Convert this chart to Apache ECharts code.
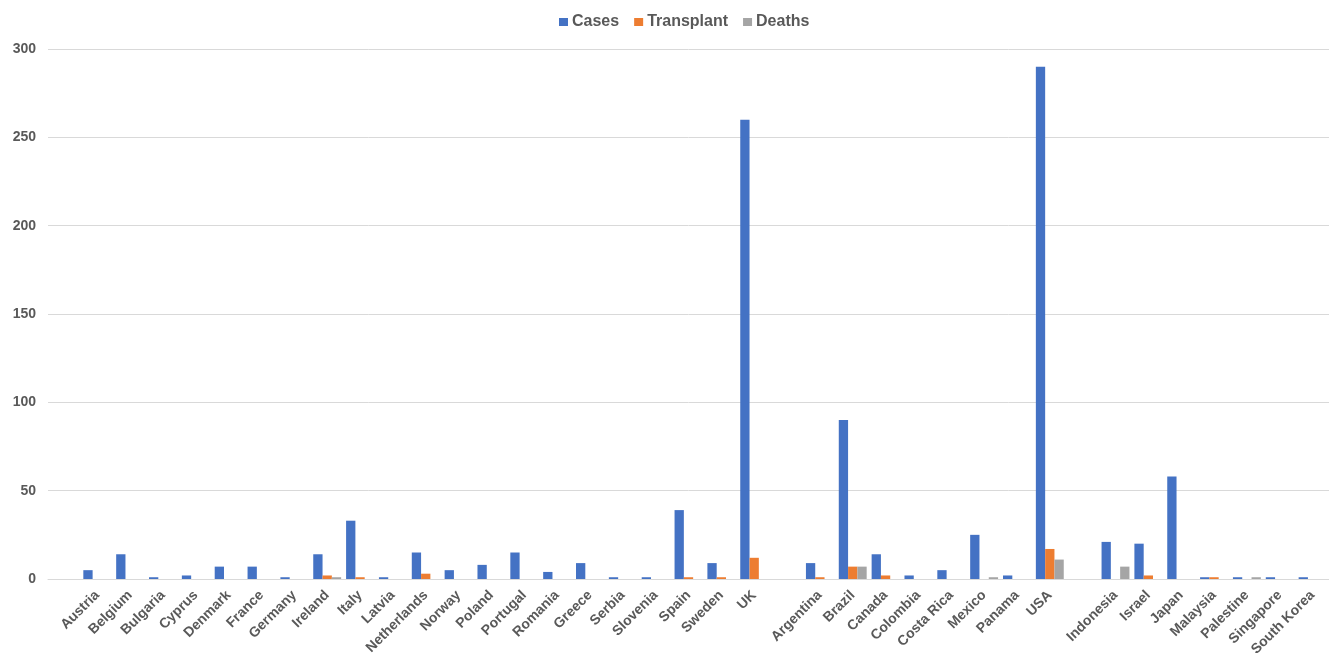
<!DOCTYPE html>
<html>
<head>
<meta charset="utf-8">
<script src="https://cdn.jsdelivr.net/npm/echarts@6/dist/echarts.min.js"></script>
<style>html,body{margin:0;padding:0;background:#fff}#c{width:1329px;height:656px}</style>
</head>
<body>
<div id="c"></div>
<script>
var categories = ['', 'Austria','Belgium','Bulgaria','Cyprus','Denmark','France','Germany','Ireland','Italy','Latvia','Netherlands','Norway','Poland','Portugal','Romania','Greece','Serbia','Slovenia','Spain','Sweden','UK','', 'Argentina','Brazil','Canada','Colombia','Costa Rica','Mexico','Panama','USA','', 'Indonesia','Israel','Japan','Malaysia','Palestine','Singapore','South Korea'];
var cases =      [null, 5,14,1,2,7,7,1,14,33,1,15,5,8,15,4,9,1,1,39,9,260,null, 9,90,14,2,5,25,2,290,null, 21,20,58,1,1,1,1];
var transplant = [null, 0,0,0,0,0,0,0,2,1,0,3,0,0,0,0,0,0,0,1,1,12,null, 1,7,2,0,0,0,0,17,null, 0,2,0,1,0,0,0];
var deaths =     [null, 0,0,0,0,0,0,0,1,0,0,0,0,0,0,0,0,0,0,0,0,0,null, 0,7,0,0,0,1,0,11,null, 7,0,0,0,1,0,0];
var yTicks = [0, 50, 100, 150, 200, 250, 300];

var chart = echarts.init(document.getElementById('c'));
var txt = '#595959';
var font = 'Liberation Sans, Arial, sans-serif';
chart.setOption({
  animation: false,
  textStyle: {fontFamily: font},
  legend: {
    top: 9, left: 554,
    itemWidth: 9, itemHeight: 8, itemGap: 15,
    icon: 'rect',
    textStyle: {color: txt, fontWeight: 'bold', fontSize: 16, fontFamily: font, padding: [0,0,0,-1]},
    data: ['Cases','Transplant','Deaths']
  },
  grid: {left: 48, right: 0, top: 49, bottom: 77, containLabel: false, outerBoundsMode: 'none'},
  xAxis: {
    type: 'category', data: categories,
    axisLine: {show: true, lineStyle: {color: '#D9D9D9', width: 1}},
    axisTick: {show: false},
    axisLabel: {interval: 0, rotate: 45, color: txt, fontWeight: 'bold', fontSize: 14, fontFamily: font, margin: 14}
  },
  yAxis: {
    type: 'value', min: yTicks[0], max: yTicks[yTicks.length-1], interval: 50,
    axisLine: {show: false}, axisTick: {show: false},
    splitLine: {lineStyle: {color: '#D9D9D9', width: 1}},
    axisLabel: {color: txt, fontWeight: 'bold', fontSize: 14, fontFamily: font, margin: 12}
  },
  series: [
    {name: 'Cases', type: 'bar', data: cases, barWidth: 9.3, barGap: '0%', itemStyle: {color: '#4472C4'}},
    {name: 'Transplant', type: 'bar', data: transplant, barWidth: 9.3, barGap: '0%', itemStyle: {color: '#ED7D31'}},
    {name: 'Deaths', type: 'bar', data: deaths, barWidth: 9.3, barGap: '0%', itemStyle: {color: '#A5A5A5'}}
  ]
});
</script>
</body>
</html>
